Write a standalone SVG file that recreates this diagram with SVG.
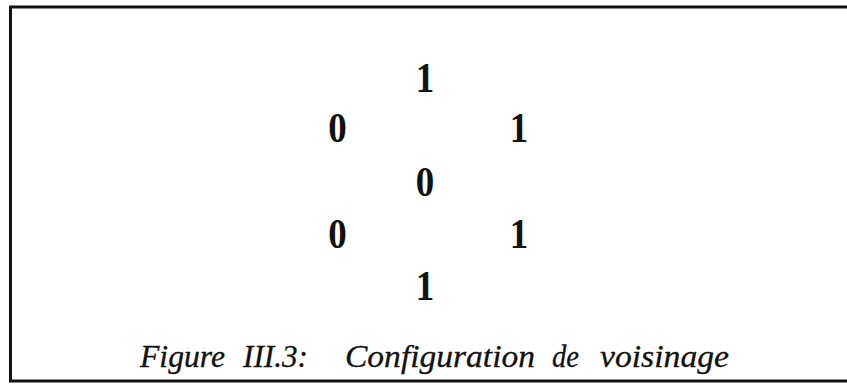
<svg xmlns="http://www.w3.org/2000/svg" width="847" height="385" viewBox="0 0 847 385">
<style>
.d{font-family:"Liberation Serif",serif;font-weight:bold;font-size:42px;fill:#111;text-anchor:middle}
.c{font-family:"Liberation Serif",serif;font-style:italic;font-size:31px;fill:#111;stroke:#111;stroke-width:0.3}
</style>
<rect width="847" height="385" fill="#fff"/>
<g id="frame" fill="none" stroke="#111" stroke-width="3">
<polyline points="847,7 10.5,7 10.5,381 847,381"/>
</g>
<g id="n-top"><text class="d" transform="translate(425,92) scale(0.88,1)">1</text></g>
<g id="n-ul"><text class="d" transform="translate(337.5,142) scale(0.88,1)">0</text></g>
<g id="n-ur"><text class="d" transform="translate(519,142) scale(0.88,1)">1</text></g>
<g id="n-center"><text class="d" transform="translate(425,196) scale(0.88,1)">0</text></g>
<g id="n-ll"><text class="d" transform="translate(337.5,248) scale(0.88,1)">0</text></g>
<g id="n-lr"><text class="d" transform="translate(519,248) scale(0.88,1)">1</text></g>
<g id="n-bottom"><text class="d" transform="translate(425,300) scale(0.88,1)">1</text></g>
<g id="connectors"></g>
<g id="caption">
<text class="c" x="140" y="367" textLength="85" lengthAdjust="spacingAndGlyphs">Figure</text>
<text class="c" x="243" y="367" textLength="65" lengthAdjust="spacingAndGlyphs">III.3:</text>
<text class="c" x="345" y="367" textLength="190" lengthAdjust="spacingAndGlyphs">Configuration</text>
<text class="c" x="552" y="367" textLength="27" lengthAdjust="spacingAndGlyphs">de</text>
<text class="c" x="600" y="367" textLength="129" lengthAdjust="spacingAndGlyphs">voisinage</text>
</g>
</svg>
